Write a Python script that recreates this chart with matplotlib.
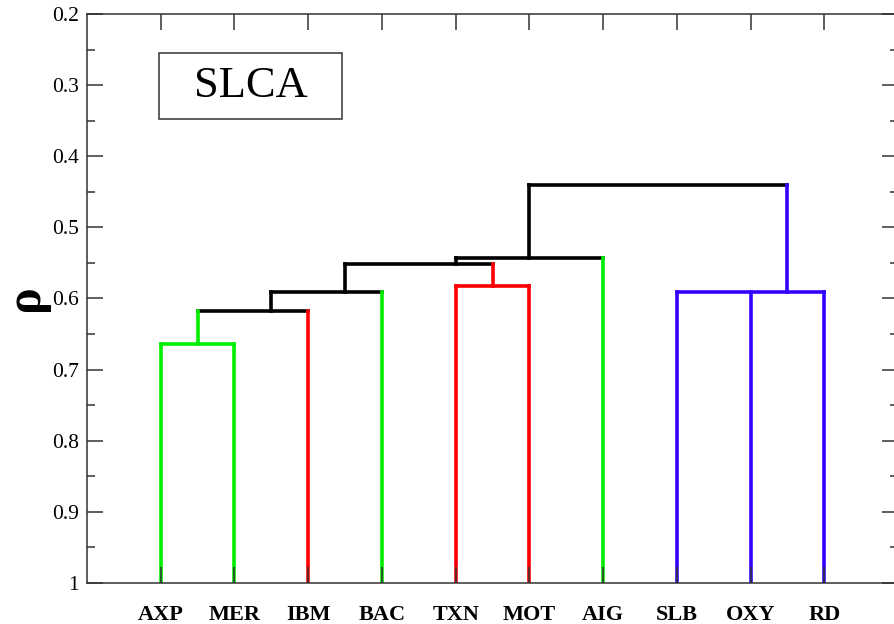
import matplotlib
matplotlib.use("Agg")
import matplotlib.pyplot as plt
from matplotlib.patches import Rectangle
from matplotlib.ticker import MultipleLocator

# Folhas do dendrograma (ordem no eixo x) e suas cores
leaves = ["AXP", "MER", "IBM", "BAC", "TXN", "MOT", "AIG", "SLB", "OXY", "RD"]
leaf_colors = ["#00ee00", "#00ee00", "#ff0000", "#00ee00", "#ff0000",
               "#ff0000", "#00ee00", "#3300ff", "#3300ff", "#3300ff"]

# Fusoes: filhos (folhas 0..9, clusters 10..), nivel rho, posicao do ramo, cor
merge_children = [(0, 1), (10, 2), (11, 3), (4, 5), (12, 13), (14, 6), (7, 8, 9), (15, 16)]
merge_rho = [0.664, 0.618, 0.591, 0.582, 0.552, 0.5425, 0.591, 0.44]
merge_pos = [1.5, 2.5, 3.5, 5.5, 5.0, 6.0, 9.5, None]
merge_colors = ["#00ee00", "black", "black", "#ff0000", "black", "black", "#3300ff", "black"]

yticks = [0.2, 0.3, 0.4, 0.5, 0.6, 0.7, 0.8, 0.9, 1.0]
ytick_labels = ["0.2", "0.3", "0.4", "0.5", "0.6", "0.7", "0.8", "0.9", "1"]

serif = "Liberation Serif"
lw = 2.6

fig = plt.figure(figsize=(8.95, 6.24), dpi=100)
ax = fig.add_axes([0.0972, 0.0657, 0.9062, 0.9119])

# posicao, altura e cor de cada no
n = len(leaves)
pos = {i: i + 1 for i in range(n)}
height = {i: 1.0 for i in range(n)}
color = {i: leaf_colors[i] for i in range(n)}
parent = {}
for k, ch in enumerate(merge_children):
    node = n + k
    height[node] = merge_rho[k]
    color[node] = merge_colors[k]
    if merge_pos[k] is not None:
        pos[node] = merge_pos[k]
    for c in ch:
        parent[c] = node
    xs = [pos[c] for c in ch]
    ax.plot([min(xs), max(xs)], [merge_rho[k], merge_rho[k]], color=merge_colors[k],
            lw=lw, solid_capstyle="projecting", zorder=1)

# ramos verticais
for node, p in parent.items():
    ax.plot([pos[node], pos[node]], [height[node], height[p]], color=color[node],
            lw=lw, solid_capstyle="projecting", zorder=1)

ax.set_xlim(0, n + 1)
ax.set_ylim(1.0, 0.2)

ax.set_xticks(range(1, n + 1))
ax.set_xticklabels(leaves, fontfamily=serif, fontweight="bold", fontsize=16)
ax.set_yticks(yticks)
ax.set_yticklabels(ytick_labels, fontfamily=serif, fontsize=15.5)
ax.yaxis.set_minor_locator(MultipleLocator(0.05))

ax.tick_params(axis="x", which="major", direction="in", length=11.5, width=1.1,
               top=True, bottom=True, pad=16, color="#333333")
ax.tick_params(axis="y", which="major", direction="in", length=11.5, width=1.1,
               left=True, right=True, pad=6, color="#333333")
ax.tick_params(axis="y", which="minor", direction="in", length=5.8, width=1.1,
               left=True, right=True, color="#333333")
for s in ax.spines.values():
    s.set_color("#333333")
    s.set_linewidth(1.1)

# caixa com o titulo
ax.add_patch(Rectangle((0.0888, 0.8155), 0.2256, 0.116, transform=ax.transAxes,
                       fill=False, edgecolor="#333333", lw=1.1, zorder=3))
ax.text(0.0888 + 0.2256 / 2, 0.8155 + 0.116 / 2, "SLCA", transform=ax.transAxes,
        ha="center", va="center", fontfamily=serif, fontsize=32)

fig.text(26 / 895, 1 - 298 / 624, "ρ", rotation=90, ha="center", va="center",
         fontfamily=serif, fontweight="bold", fontsize=36)

fig.savefig("out.png", dpi=100)
